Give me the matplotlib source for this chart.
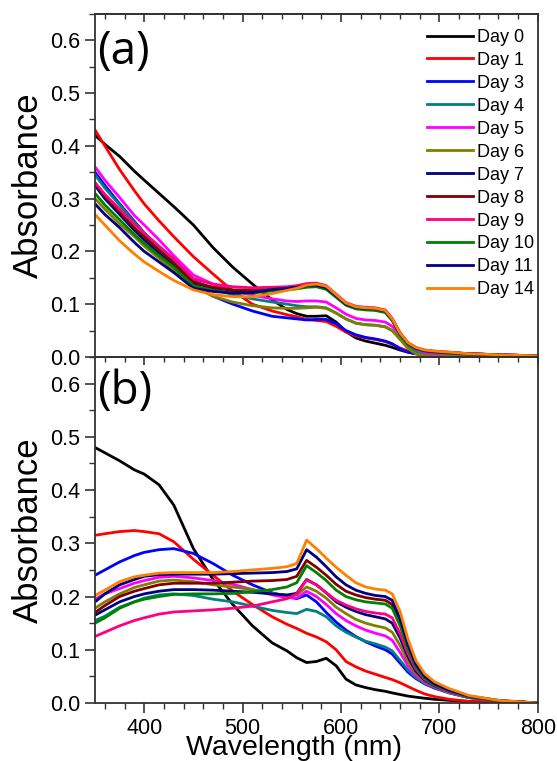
import numpy as np
import matplotlib
matplotlib.use('Agg')
import matplotlib.pyplot as plt
from matplotlib.ticker import MultipleLocator, FormatStrFormatter

plt.rcParams['font.family'] = ['Liberation Sans', 'DejaVu Sans']

# 波长采样点 (nm)
wl = [350, 360, 375, 390, 400, 415, 430, 450, 470, 490, 510, 530, 545, 555, 565,
      575, 585, 595, 605, 615, 625, 635, 645, 652, 660, 668, 676, 685, 695, 710,
      730, 760, 800]

labels = ['Day 0', 'Day 1', 'Day 3', 'Day 4', 'Day 5', 'Day 6', 'Day 7',
          'Day 8', 'Day 9', 'Day 10', 'Day 11', 'Day 14']
colors = ['#000000', '#FF0000', '#0000FF', '#008080', '#FF00FF', '#808000',
          '#000080', '#800000', '#FF0080', '#008000', '#000080', '#FF8000']

# (a) 吸光度
a_day0 = [.42, .403, .38, .352, .335, .31, .285, .25, .207, .17, .138, .108, .09, .082, .077,
          .077, .078, .066, .048, .036, .03, .026, .022, .018, .013, .009, .006, .004, .003, .002,
          .001, .001, 0]
a_day1 = [.43, .40, .355, .315, .29, .258, .228, .19, .157, .125, .1, .087, .08, .076, .071,
          .069, .067, .058, .047, .04, .036, .033, .029, .024, .017, .011, .007, .005, .003, .002,
          .001, .001, 0]
a_day3 = [.35, .325, .29, .257, .235, .205, .178, .138, .115, .1, .087, .077, .074, .072, .07,
          .071, .071, .063, .05, .042, .037, .034, .03, .025, .015, .009, .006, .004, .003, .002,
          .001, .001, 0]
a_day4 = [.345, .32, .288, .255, .235, .207, .182, .145, .128, .118, .11, .104, .1, .097, .095,
          .095, .093, .083, .072, .064, .061, .06, .057, .05, .035, .02, .01, .005, .003, .002,
          .001, .001, 0]
a_day5 = [.36, .335, .302, .268, .25, .222, .192, .155, .138, .126, .117, .11, .106, .105, .106,
          .106, .104, .093, .081, .073, .07, .069, .066, .058, .042, .026, .014, .008, .005, .003,
          .002, .001, 0]
a_day6 = [.30, .28, .252, .228, .21, .187, .165, .133, .115, .104, .097, .093, .092, .092, .093,
          .094, .092, .083, .072, .064, .061, .06, .057, .05, .033, .016, .006, .002, .001, .001,
          0, 0, 0]
a_day7 = [.325, .30, .27, .24, .222, .197, .175, .14, .131, .126, .125, .127, .129, .131, .134,
          .135, .13, .115, .10, .093, .091, .09, .086, .07, .043, .025, .016, .012, .01, .008,
          .006, .004, .002]
a_day8 = [.33, .305, .275, .245, .228, .202, .178, .142, .132, .127, .127, .129, .131, .133, .136,
          .137, .132, .117, .101, .094, .092, .091, .087, .071, .044, .026, .017, .012, .01, .008,
          .006, .004, .002]
a_day9 = [.33, .308, .28, .252, .235, .21, .186, .148, .138, .133, .131, .132, .133, .135, .139,
          .14, .135, .119, .103, .096, .094, .093, .089, .073, .046, .027, .018, .013, .011, .009,
          .006, .004, .002]
a_day10 = [.31, .288, .26, .232, .215, .192, .17, .135, .126, .121, .121, .125, .127, .129, .132,
           .133, .128, .113, .098, .091, .089, .088, .084, .069, .042, .024, .015, .011, .009, .007,
           .005, .003, .001]
a_day11 = [.29, .27, .245, .217, .20, .18, .16, .13, .124, .121, .122, .128, .13, .132, .135,
           .136, .131, .116, .10, .094, .092, .091, .087, .071, .044, .026, .017, .012, .01, .008,
           .006, .004, .002]
a_day14 = [.27, .25, .22, .195, .18, .162, .145, .127, .118, .114, .114, .12, .126, .13, .136,
           .138, .134, .118, .102, .095, .093, .092, .088, .072, .045, .027, .018, .013, .011, .009,
           .006, .004, .002]

# (b) 吸光度
b_day0 = [.48, .47, .455, .438, .43, .41, .372, .29, .232, .185, .145, .113, .098, .085, .076,
          .078, .084, .07, .045, .034, .029, .025, .022, .019, .016, .013, .011, .009, .007, .005,
          .003, .001, 0]
b_day1 = [.315, .318, .322, .324, .322, .318, .303, .27, .24, .21, .185, .162, .148, .14, .131,
          .124, .115, .10, .078, .068, .06, .054, .048, .044, .038, .031, .024, .017, .012, .007,
          .003, .001, 0]
b_day3 = [.24, .25, .265, .277, .283, .288, .29, .281, .262, .24, .222, .207, .20, .196, .203,
          .19, .17, .152, .137, .125, .115, .107, .10, .092, .075, .058, .046, .036, .028, .019,
          .01, .004, 0]
b_day4 = [.155, .163, .18, .19, .197, .203, .205, .202, .195, .19, .182, .174, .17, .168, .176,
          .172, .162, .145, .133, .124, .116, .111, .105, .098, .08, .062, .048, .037, .029, .019,
          .01, .004, 0]
b_day5 = [.195, .205, .215, .225, .23, .236, .238, .235, .23, .223, .213, .203, .198, .197, .21,
          .20, .185, .168, .155, .145, .137, .131, .126, .118, .095, .07, .052, .039, .03, .02,
          .011, .004, 0]
b_day6 = [.178, .19, .205, .217, .222, .229, .231, .228, .222, .218, .213, .206, .202, .203, .218,
          .21, .197, .18, .168, .157, .15, .145, .141, .133, .108, .078, .056, .041, .031, .021,
          .011, .004, 0]
b_day7 = [.165, .175, .19, .20, .205, .21, .213, .213, .212, .21, .208, .205, .203, .206, .232,
          .222, .207, .19, .18, .172, .166, .162, .158, .15, .122, .087, .06, .043, .032, .022,
          .012, .004, 0]
b_day8 = [.17, .183, .20, .21, .215, .222, .225, .225, .225, .227, .229, .23, .232, .238, .268,
          .255, .24, .223, .21, .203, .198, .195, .193, .185, .15, .105, .07, .048, .035, .023,
          .012, .004, 0]
b_day9 = [.125, .133, .145, .155, .16, .167, .171, .173, .175, .178, .182, .19, .196, .205, .231,
          .222, .207, .193, .184, .177, .172, .169, .167, .16, .13, .093, .064, .045, .033, .022,
          .012, .004, 0]
b_day10 = [.15, .16, .178, .19, .195, .20, .204, .205, .205, .206, .209, .213, .218, .226, .258,
           .245, .23, .212, .20, .194, .19, .188, .186, .178, .145, .102, .068, .047, .034, .023,
           .012, .004, 0]
b_day11 = [.19, .205, .222, .232, .238, .241, .242, .242, .242, .243, .244, .245, .247, .252, .288,
           .274, .256, .237, .222, .212, .206, .202, .20, .193, .158, .11, .073, .05, .036, .024,
           .013, .005, 0]
b_day14 = [.202, .212, .228, .237, .24, .244, .245, .245, .245, .247, .25, .253, .256, .262, .306,
           .29, .272, .255, .24, .226, .218, .214, .212, .205, .172, .12, .08, .055, .04, .027,
           .014, .005, 0]

series_a = [a_day0, a_day1, a_day3, a_day4, a_day5, a_day6, a_day7, a_day8,
            a_day9, a_day10, a_day11, a_day14]
series_b = [b_day0, b_day1, b_day3, b_day4, b_day5, b_day6, b_day7, b_day8,
            b_day9, b_day10, b_day11, b_day14]

fig = plt.figure(figsize=(5.57, 7.61), dpi=100)
ax1 = fig.add_axes([0.1706, 0.531, 0.795, 0.4507])
ax2 = fig.add_axes([0.1706, 0.0762, 0.795, 0.4547])


def style(ax, show_x):
    ax.set_xlim(350, 800)
    ax.set_ylim(0, 0.65)
    ax.xaxis.set_major_locator(MultipleLocator(100))
    ax.xaxis.set_minor_locator(MultipleLocator(20))
    ax.yaxis.set_major_locator(MultipleLocator(0.1))
    ax.yaxis.set_minor_locator(MultipleLocator(0.05))
    ax.yaxis.set_major_formatter(FormatStrFormatter('%.1f'))
    ax.tick_params(axis='both', which='major', direction='out', length=7,
                   width=1.2, labelsize=15.5, color='#333333')
    ax.tick_params(axis='both', which='minor', direction='out', length=4.5,
                   width=1.0, color='#333333')
    ax.tick_params(axis='x', pad=3.5, labelbottom=show_x)
    for s in ax.spines.values():
        s.set_linewidth(1.3)
        s.set_color('#333333')
    ax.set_ylabel('Absorbance', fontsize=25, labelpad=4)
    # 顶部刻度朝内
    top = ax.secondary_xaxis('top')
    top.xaxis.set_major_locator(MultipleLocator(100))
    top.xaxis.set_minor_locator(MultipleLocator(20))
    top.tick_params(which='major', direction='in', length=6, width=1.2,
                    labeltop=False, color='#333333')
    top.tick_params(which='minor', direction='in', length=3.5, width=1.0,
                    color='#333333')
    top.spines['top'].set_linewidth(1.3)
    top.spines['top'].set_color('#333333')


for ax, series in [(ax1, series_a), (ax2, series_b)]:
    for vals, c, lab in zip(series, colors, labels):
        ax.plot(wl, vals, color=c, lw=2.0, label=lab)

style(ax1, False)
style(ax2, True)

ax1.text(0.005, 0.955, '(a)', transform=ax1.transAxes, fontsize=33,
         va='top', ha='left', family='Open Sans')
ax2.text(0.005, 0.965, '(b)', transform=ax2.transAxes, fontsize=33,
         va='top', ha='left', family='Open Sans')

ax1.legend(loc='upper right', bbox_to_anchor=(1.0, 0.967), frameon=False,
           fontsize=13, handlelength=2.5, handletextpad=0.25,
           labelspacing=0.33, borderaxespad=0, borderpad=0.2)

# x轴标题
fig.text(0.528, 0.0075, 'Wavelength (nm)', fontsize=20.5, ha='center',
         va='baseline')

fig.savefig('out.png', dpi=100)
plt.close(fig)
